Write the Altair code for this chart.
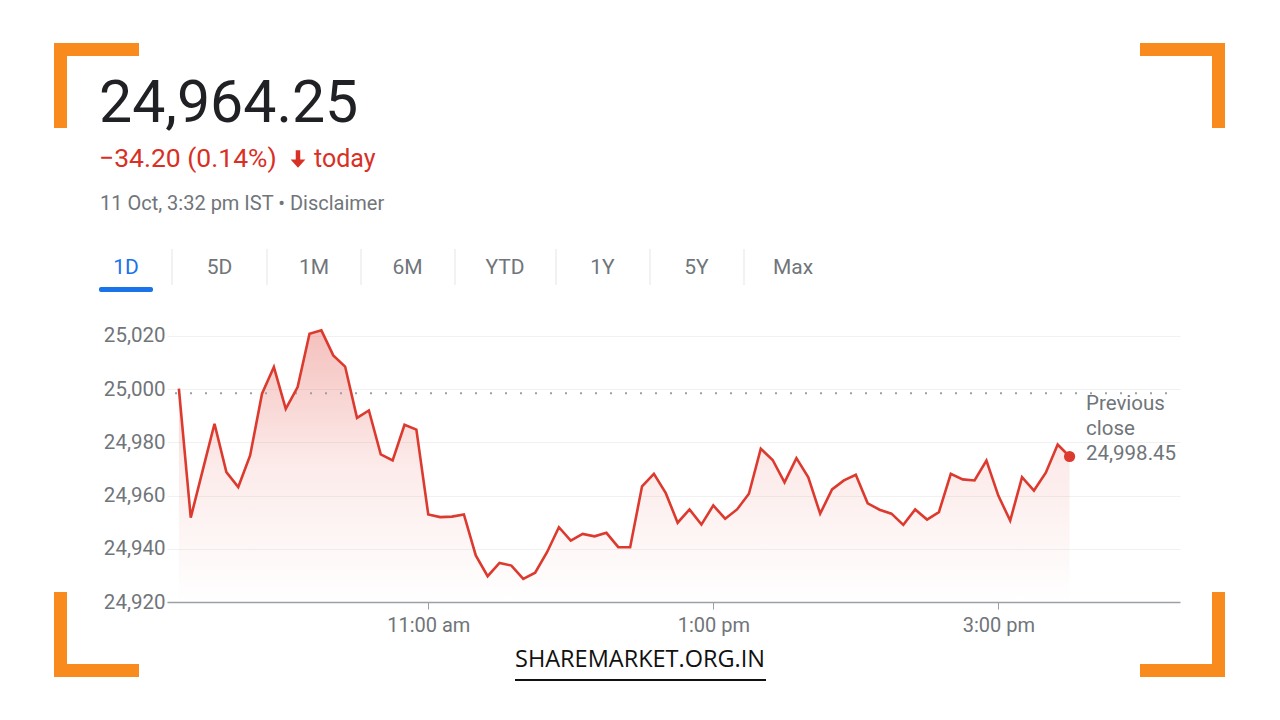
import altair as alt
import pandas as pd

# ---------------- data ----------------
values = [
    25000.2, 24951.7, 24969.4, 24987.0, 24968.8, 24963.2, 24975.1, 24998.3,
    25008.3, 24992.6, 25000.8, 25020.8, 25022.1, 25012.7, 25008.5, 24989.2,
    24992.0, 24975.5, 24973.2, 24986.6, 24984.8, 24952.9, 24951.9, 24952.1,
    24952.9, 24937.5, 24929.7, 24934.7, 24933.7, 24928.7, 24931.0, 24938.7,
    24948.1, 24943.1, 24945.6, 24944.7, 24946.0, 24940.6, 24940.6, 24963.5,
    24968.2, 24960.9, 24949.8, 24954.8, 24949.1, 24956.3, 24951.3, 24954.8,
    24960.7, 24977.6, 24973.4, 24965.0, 24974.1, 24966.9, 24953.2, 24962.3,
    24965.7, 24967.8, 24957.1, 24954.7, 24953.2, 24949.0, 24954.8, 24951.0,
    24953.8, 24968.2, 24966.1, 24965.7, 24973.2, 24960.0, 24950.6, 24966.9,
    24961.9, 24968.6, 24979.2, 24974.7,
]
times = list(pd.date_range("2024-10-11 09:15", periods=len(values), freq="5min").strftime("%H:%M"))

prev_close = 24998.45
y_ticks = [24920, 24940, 24960, 24980, 25000, 25020]
x_tick_times = ["11:00", "13:00", "15:00"]
x_tick_labels = ["11:00 am", "1:00 pm", "3:00 pm"]

price_text = "24,964.25"
change_text = "\u221234.20 (0.14%)"
today_text = "today"
date_text = "11 Oct, 3:32 pm IST \u2022 Disclaimer"
tabs = ["1D", "5D", "1M", "6M", "YTD", "1Y", "5Y", "Max"]
prev_label = ["Previous", "close", "24,998.45"]
footer_text = "SHAREMARKET.ORG.IN"


def minutes(t):
    h, m = t.split(":")
    return (int(h) - 9) * 60 + int(m) - 15


df = pd.DataFrame({"time": times, "value": values})
df["min"] = [minutes(t) for t in times]
last = df.tail(1)
tick_mins = [minutes(t) for t in x_tick_times]
label_expr = " : ".join(
    [f"datum.value == {m} ? '{l}'" for m, l in zip(tick_mins, x_tick_labels)]
) + " : ''"

# ---------------- layout ----------------
W, H = 1013, 282
OX, OY = 167, 320
RED = "#dd3a2f"
GREY = "#70757a"
ORANGE = "#f98a1e"
FONT = "Roboto"

xscale = alt.Scale(domain=[-5, 421.5], nice=False, zero=False)
yscale = alt.Scale(domain=[24920, 25026], nice=False, zero=False)

x_enc = alt.X(
    "min:Q", scale=xscale,
    axis=alt.Axis(values=tick_mins, labelExpr=label_expr, grid=False, title=None,
                  domainColor="#9aa0a6", domainWidth=1.5, tickColor="#9aa0a6",
                  tickSize=7, labelPadding=6, labelFontSize=20, labelColor=GREY,
                  labelFont=FONT),
)
y_enc = alt.Y(
    "value:Q", scale=yscale,
    axis=alt.Axis(values=y_ticks, format=",.0f", grid=True, gridColor="#f1f1f1",
                  domain=False, ticks=False, labelPadding=2, title=None,
                  labelFontSize=20.5, labelColor=GREY, labelFont=FONT),
)

base = alt.Chart(df)

area = base.mark_area(
    color=alt.Gradient(
        gradient="linear",
        stops=[alt.GradientStop(color="rgba(222,60,50,0.32)", offset=0),
               alt.GradientStop(color="rgba(222,60,50,0.10)", offset=0.5),
               alt.GradientStop(color="rgba(222,60,50,0.0)", offset=1)],
        x1=1, x2=1, y1=0, y2=1,
    )
).encode(x=x_enc, y=y_enc, y2=alt.datum(24920))

line = base.mark_line(color=RED, strokeWidth=2.6, strokeJoin="miter").encode(
    x=alt.X("min:Q", scale=xscale), y=alt.Y("value:Q", scale=yscale)
)

dot = alt.Chart(last).mark_point(filled=True, color=RED, size=125, opacity=1).encode(
    x=alt.X("min:Q", scale=xscale), y=alt.Y("value:Q", scale=yscale)
)

prev_rule = alt.Chart(pd.DataFrame({"pc": [prev_close]})).mark_rule(
    color="#9aa0a6", strokeDash=[2, 13], strokeWidth=2
).encode(y=alt.Y("pc:Q", scale=yscale), x=alt.value(8), x2=alt.value(W))

ONE = alt.Data(values=[{"a": 1}])


def txt(s, px, py, size, color, align="left", weight="normal", font=FONT, baseline="middle"):
    return alt.Chart(alt.Data(values=[{"t": s}])).mark_text(
        align=align, baseline=baseline, fontSize=size, color=color,
        fontWeight=weight, font=font
    ).encode(text="t:N", x=alt.value(px - OX), y=alt.value(py - OY))


def rect(x1, x2, y1, y2, color, radius=0):
    kw = {"cornerRadius": radius} if radius else {}
    return alt.Chart(ONE).mark_rect(color=color, **kw).encode(
        x=alt.value(x1 - OX), x2=alt.value(x2 - OX),
        y=alt.value(y1 - OY), y2=alt.value(y2 - OY))


def vrule(x, y1, y2, color, w=1.0):
    return alt.Chart(ONE).mark_rule(color=color, strokeWidth=w).encode(
        x=alt.value(x - OX), y=alt.value(y1 - OY), y2=alt.value(y2 - OY))


def hrule(x1, x2, y, color, w=1.0):
    return alt.Chart(ONE).mark_rule(color=color, strokeWidth=w).encode(
        x=alt.value(x1 - OX), x2=alt.value(x2 - OX), y=alt.value(y - OY))


ARROW = "M -0.26 -1 L 0.26 -1 L 0.26 0.05 L 0.85 0.05 L 0 1 L -0.85 0.05 L -0.26 0.05 Z"
arrow = alt.Chart(ONE).mark_point(shape=ARROW, filled=True, color="#d93025", size=300, opacity=1).encode(
    x=alt.value(298 - OX), y=alt.value(159 - OY))

layers = [area, prev_rule, line, dot]

# header
layers.append(txt(price_text, 99, 122, 59, "#202124", baseline="alphabetic"))
layers.append(txt(change_text, 99, 167, 26.5, "#d93025", baseline="alphabetic"))
layers.append(arrow)
layers.append(txt(today_text, 314, 167, 25, "#d93025", baseline="alphabetic"))
layers.append(txt(date_text, 100, 210, 20, GREY, baseline="alphabetic"))

# tabs
tab_centers = [126, 219.5, 314, 407.5, 505, 602.5, 696.5, 793]
for i, (t, cx) in enumerate(zip(tabs, tab_centers)):
    layers.append(txt(t, cx, 268, 21, "#1a73e8" if i == 0 else GREY, align="center"))
for sx in [172, 267, 361, 455, 556, 650, 744]:
    layers.append(vrule(sx, 249, 285, "#e8eaed", 1.2))
layers.append(rect(99, 153, 287, 292, "#1a73e8", radius=2))

# previous close label
for i, s in enumerate(prev_label):
    layers.append(txt(s, 1086, 404 + 25 * i, 20.5, GREY))

# orange corner brackets
T = 13
L = 85
layers += [
    rect(54, 54 + T, 43, 43 + L, ORANGE), rect(54, 54 + L, 43, 43 + T, ORANGE),
    rect(1225 - T, 1225, 43, 43 + L, ORANGE), rect(1225 - L, 1225, 43, 43 + T, ORANGE),
    rect(54, 54 + T, 677 - L, 677, ORANGE), rect(54, 54 + L, 677 - T, 677, ORANGE),
    rect(1225 - T, 1225, 677 - L, 677, ORANGE), rect(1225 - L, 1225, 677 - T, 677, ORANGE),
]

# footer
layers.append(txt(footer_text, 640, 667, 23.5, "#111111", align="center", font="Open Sans", baseline="alphabetic"))
layers.append(hrule(515, 766, 680, "#111111", 2))

chart = alt.layer(*layers).properties(
    width=W, height=H,
    padding={"left": OX, "top": OY, "right": 1280 - OX - W, "bottom": 720 - OY - H},
    autosize=alt.AutoSizeParams(type="none"),
    background="white",
).configure_view(strokeWidth=0)

chart.save("out.html", embed_options={"renderer": "svg", "actions": False})
